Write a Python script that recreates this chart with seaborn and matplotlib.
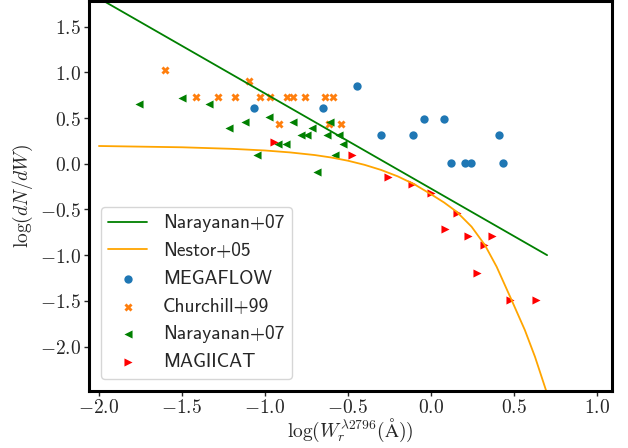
import matplotlib
matplotlib.use("Agg")
import matplotlib.pyplot as plt
import matplotlib.ticker as mticker
from matplotlib.font_manager import FontProperties
import seaborn as sns

# ---- data ----
nar_line_x = [-2.0, 0.70]
nar_line_y = [1.81, -1.00]

nestor_x = [-2.0, -1.5, -1.2, -1.0, -0.85, -0.7, -0.6, -0.5, -0.4, -0.3, -0.2, -0.1,
            0.0, 0.08, 0.155, 0.245, 0.325, 0.396, 0.486, 0.566, 0.627, 0.693]
nestor_y = [0.194, 0.180, 0.163, 0.145, 0.124, 0.095, 0.068, 0.033, -0.012, -0.068,
            -0.138, -0.225, -0.333, -0.425, -0.525, -0.689, -0.889, -1.127, -1.491,
            -1.820, -2.112, -2.476]

megaflow_x = [-1.064, -0.649, -0.443, -0.042, 0.077, -0.301, -0.110, 0.410,
              0.123, 0.205, 0.241, 0.434]
megaflow_y = [0.613, 0.613, 0.853, 0.489, 0.489, 0.317, 0.317, 0.317,
              0.011, 0.011, 0.011, 0.011]

churchill_x = [-1.601, -1.098, -1.416, -1.283, -1.183, -1.030, -0.970, -0.869,
               -0.830, -0.757, -0.637, -0.589, -0.917, -0.613, -0.544]
churchill_y = [1.025, 0.905, 0.73, 0.73, 0.73, 0.73, 0.73, 0.73,
               0.73, 0.73, 0.73, 0.73, 0.43, 0.43, 0.43]

nar_pts_x = [-1.759, -1.498, -1.336, -1.215, -1.122, -0.978, -0.830, -0.719,
             -0.608, -0.785, -0.749, -0.628, -0.552, -0.920, -0.873, -0.528,
             -1.046, -0.577, -0.687]
nar_pts_y = [0.653, 0.722, 0.653, 0.391, 0.456, 0.514, 0.456, 0.391,
             0.456, 0.311, 0.311, 0.311, 0.311, 0.216, 0.216, 0.216,
             0.092, 0.092, -0.091]

magiicat_x = [-0.944, -0.474, -0.257, -0.111, 0.0, 0.155, 0.086, 0.221,
              0.367, 0.321, 0.275, 0.474, 0.633]
magiicat_y = [0.241, 0.098, -0.149, -0.219, -0.317, -0.536, -0.714, -0.795,
              -0.795, -0.886, -1.193, -1.491, -1.491]

x_ticks = [-2.0, -1.5, -1.0, -0.5, 0.0, 0.5, 1.0]
y_ticks = [-2.0, -1.5, -1.0, -0.5, 0.0, 0.5, 1.0, 1.5]

# ---- style ----
sns.set_style("white")
plt.rcParams["mathtext.fontset"] = "cm"
plt.rcParams["font.family"] = ["DejaVu Sans"]

fig = plt.figure(figsize=(6.28, 4.48), dpi=100)
ax = fig.add_axes([0.1417, 0.1283, 0.9740 - 0.1417, 0.9967 - 0.1283])

sns.lineplot(x=nar_line_x, y=nar_line_y, color="green", lw=1.3,
             label="Narayanan+07", ax=ax, estimator=None, sort=False)
sns.lineplot(x=nestor_x, y=nestor_y, color="orange", lw=1.3,
             label="Nestor+05", ax=ax, estimator=None, sort=False)
sns.scatterplot(x=megaflow_x, y=megaflow_y, color="#1f77b4", marker="o", s=36,
                linewidth=0, label="MEGAFLOW", ax=ax)
sns.scatterplot(x=churchill_x, y=churchill_y, color="#ff7f0e", marker="X", s=34,
                linewidth=0, label="Churchill+99", ax=ax)
sns.scatterplot(x=nar_pts_x, y=nar_pts_y, color="green", marker="<", s=34,
                linewidth=0, label="Narayanan+07", ax=ax)
sns.scatterplot(x=magiicat_x, y=magiicat_y, color="red", marker=">", s=34,
                linewidth=0, label="MAGIICAT", ax=ax)

ax.set_xlim(-2.06, 1.089)
ax.set_ylim(-2.481, 1.775)
ax.set_xticks(x_ticks)
ax.set_yticks(y_ticks)
fmt = mticker.FuncFormatter(lambda v, p: r"$%.1f$" % v)
ax.xaxis.set_major_formatter(fmt)
ax.yaxis.set_major_formatter(fmt)
ax.tick_params(axis="both", which="major", labelsize=14, direction="out",
               length=3.5, width=1, bottom=True, left=True, top=False, right=False,
               pad=2)
for sp in ax.spines.values():
    sp.set_linewidth(2.2)
    sp.set_color("black")

ax.set_xlabel(r"$\log(W_r^{\lambda2796}(\mathrm{\AA}))$", fontsize=14, labelpad=0)
ax.set_ylabel(r"$\log(dN/dW)$", fontsize=14, labelpad=4)

leg = ax.legend(loc="lower left", prop=FontProperties(family="cmss10", size=14),
                scatterpoints=1, borderaxespad=0.6)

fig.savefig("out.png", dpi=100)
